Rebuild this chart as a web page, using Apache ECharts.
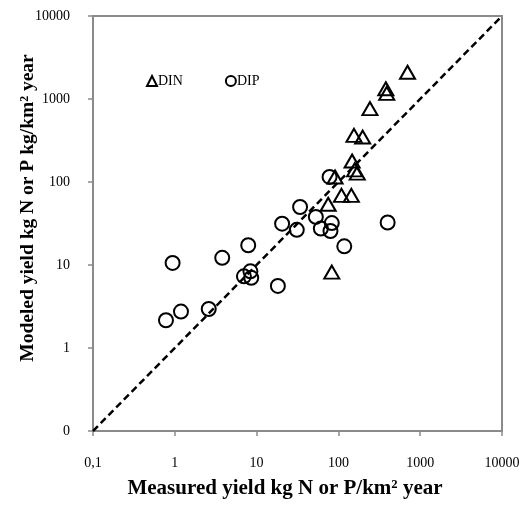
<!DOCTYPE html>
<html>
<head>
<meta charset="utf-8">
<script src="https://cdn.jsdelivr.net/npm/echarts@6/dist/echarts.min.js"></script>
<style>
  html, body { margin: 0; padding: 0; background: #fff; }
  #chart { width: 524px; height: 507px; }
</style>
</head>
<body>
<div id="chart"></div>
<script>
// Dissolved inorganic nitrogen yields (kg N/km² year)
const dinMeasured = [700, 380, 390, 243, 155, 198, 147, 158, 170, 91, 109, 144, 75, 83];
const dinModeled  = [2100, 1330, 1170, 766, 365, 348, 179, 140, 128, 115, 69, 69, 54, 8.2];

// Dissolved inorganic phosphorus yields (kg P/km² year)
const dipMeasured = [0.78, 1.19, 2.6, 0.94, 3.8, 7.9, 7.0, 8.4, 8.6, 18.2, 20.5, 31, 34, 53, 61, 80, 83, 118, 78, 400];
const dipModeled  = [2.16, 2.75, 2.95, 10.6, 12.2, 17.3, 7.3, 8.4, 7.0, 5.6, 31.5, 26.5, 50, 38, 27.5, 25.7, 32, 16.8, 115, 32.5];

// 1:1 reference line
const oneToOne = [0.1, 10000];

const axisMin = 0.1;
const axisMax = 10000;
const xTickLabels = { 0.1: '0,1', 1: '1', 10: '10', 100: '100', 1000: '1000', 10000: '10000' };
const yTickLabels = { 0.1: '0', 1: '1', 10: '10', 100: '100', 1000: '1000', 10000: '10000' };

const seriesNames = ['DIN', 'DIP'];
const xTitle = 'Measured yield kg N or P/km² year';
const yTitle = 'Modeled yield kg N or P kg/km² year';

const pair = (xs, ys) => xs.map((v, i) => [v, ys[i]]);
const serif = '"Liberation Serif", "Times New Roman", serif';
const labelFor = (map) => (v) => {
  const key = Object.keys(map).find(k => Math.abs(Math.log10(+k) - Math.log10(v)) < 1e-6);
  return key !== undefined ? map[key] : '';
};

const chart = echarts.init(document.getElementById('chart'), null, { renderer: 'canvas' });

const axisCommon = {
  type: 'log',
  logBase: 10,
  min: axisMin,
  max: axisMax,
  splitLine: { show: false },
  axisLine: { show: true, lineStyle: { color: '#8a8a8a', width: 2 } },
  axisTick: { show: true, inside: false, length: 5, lineStyle: { color: '#8a8a8a', width: 1.5 } },
  minorTick: { show: false }
};

// Hollow black markers
const hollow = { color: 'rgba(0,0,0,0)', borderColor: '#000', borderWidth: 2, opacity: 1 };

chart.setOption({
  animation: false,
  backgroundColor: '#fff',
  grid: {
    left: 93, top: 16, right: 22, bottom: 76,
    show: true, borderColor: '#8a8a8a', borderWidth: 2, backgroundColor: 'transparent'
  },
  legend: {
    data: seriesNames,
    left: 141, top: 69,
    itemWidth: 10, itemHeight: 10,
    itemGap: 42,
    textStyle: { fontFamily: serif, fontSize: 14, color: '#000', padding: [0, 0, 0, -4] }
  },
  xAxis: Object.assign({}, axisCommon, {
    axisLabel: { formatter: labelFor(xTickLabels), fontFamily: serif, fontSize: 14, color: '#000', margin: 25 }
  }),
  yAxis: Object.assign({}, axisCommon, {
    axisLabel: { formatter: labelFor(yTickLabels), fontFamily: serif, fontSize: 14, color: '#000', margin: 23 }
  }),
  graphic: [
    {
      type: 'text', x: 285, y: 489,
      style: { text: xTitle, fontFamily: serif, fontSize: 21, fontWeight: 'bold', fill: '#000', align: 'center', verticalAlign: 'middle' }
    },
    {
      type: 'text', x: 28, y: 208, rotation: Math.PI / 2,
      style: { text: yTitle, fontFamily: serif, fontSize: 19.5, fontWeight: 'bold', fill: '#000', align: 'center', verticalAlign: 'middle' }
    }
  ],
  series: [
    {
      name: 'DIN', type: 'scatter',
      symbol: 'triangle', symbolSize: [15, 13],
      itemStyle: hollow,
      data: pair(dinMeasured, dinModeled),
      z: 3
    },
    {
      name: 'DIP', type: 'scatter',
      symbol: 'circle', symbolSize: 14,
      itemStyle: hollow,
      data: pair(dipMeasured, dipModeled),
      z: 3
    },
    {
      name: '1:1', type: 'line',
      data: pair(oneToOne, oneToOne),
      symbol: 'none',
      lineStyle: { color: '#000', width: 2.5, type: [7, 4] },
      z: 4,
      silent: true
    }
  ]
});
</script>
</body>
</html>
